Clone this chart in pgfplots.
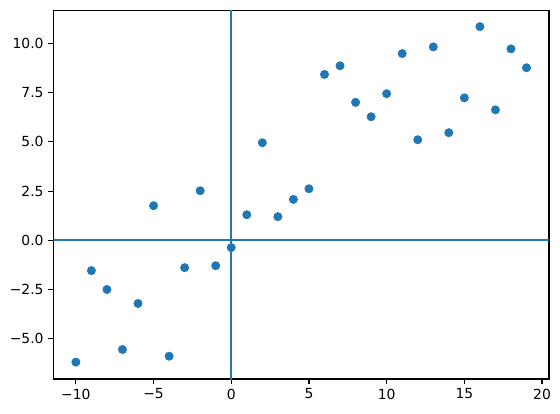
\documentclass[border=0pt]{standalone}
\usepackage{fontspec}
\setmainfont{DejaVu Sans}
\usepackage{pgfplots}
\pgfplotsset{compat=1.18}
\definecolor{mplblue}{HTML}{1F77B4}

\begin{document}
\fontsize{10}{12}\selectfont
\begin{tikzpicture}
\path[use as bounding box] (-38.4pt,-24.5pt) rectangle (364.8pt,272.9pt);
\begin{axis}[
    at={(0,0)}, anchor=south west,
    scale only axis,
    width=356.9pt, height=265.2pt,
    xmin=-11.45, xmax=20.45,
    ymin=-7.05, ymax=11.67,
    axis line style={line width=0.8pt},
    tick style={black, line width=0.8pt},
    major tick length=3.5pt,
    tick align=outside,
    xtick pos=bottom, ytick pos=left,
    xtick={-10,-5,0,5,10,15,20},
    xticklabels={−10,−5,0,5,10,15,20},
    ytick={-5,-2.5,0,2.5,5,7.5,10},
    yticklabels={−5.0,−2.5,0.0,2.5,5.0,7.5,10.0},
    ticklabel style={font=\fontsize{10}{12}\selectfont},
    clip=true,
]
\addplot[only marks, mark=*, mark size=3pt, draw=mplblue, fill=mplblue]
coordinates {
(-10,-6.19) (-9,-1.54) (-8,-2.50) (-7,-5.55) (-6,-3.21)
(-5,1.76) (-4,-5.89) (-3,-1.39) (-2,2.52) (-1,-1.29)
(0,-0.37) (1,1.30) (2,4.96) (3,1.20) (4,2.08)
(5,2.62) (6,8.43) (7,8.87) (8,7.01) (9,6.28)
(10,7.45) (11,9.49) (12,5.11) (13,9.83) (14,5.47)
(15,7.24) (16,10.86) (17,6.63) (18,9.73) (19,8.77)
};
\addplot[mplblue, line width=1.5pt] coordinates {(0,-20) (0,20)};
\addplot[mplblue, line width=1.5pt] coordinates {(-20,0) (30,0)};
\end{axis}
\end{tikzpicture}
\end{document}
